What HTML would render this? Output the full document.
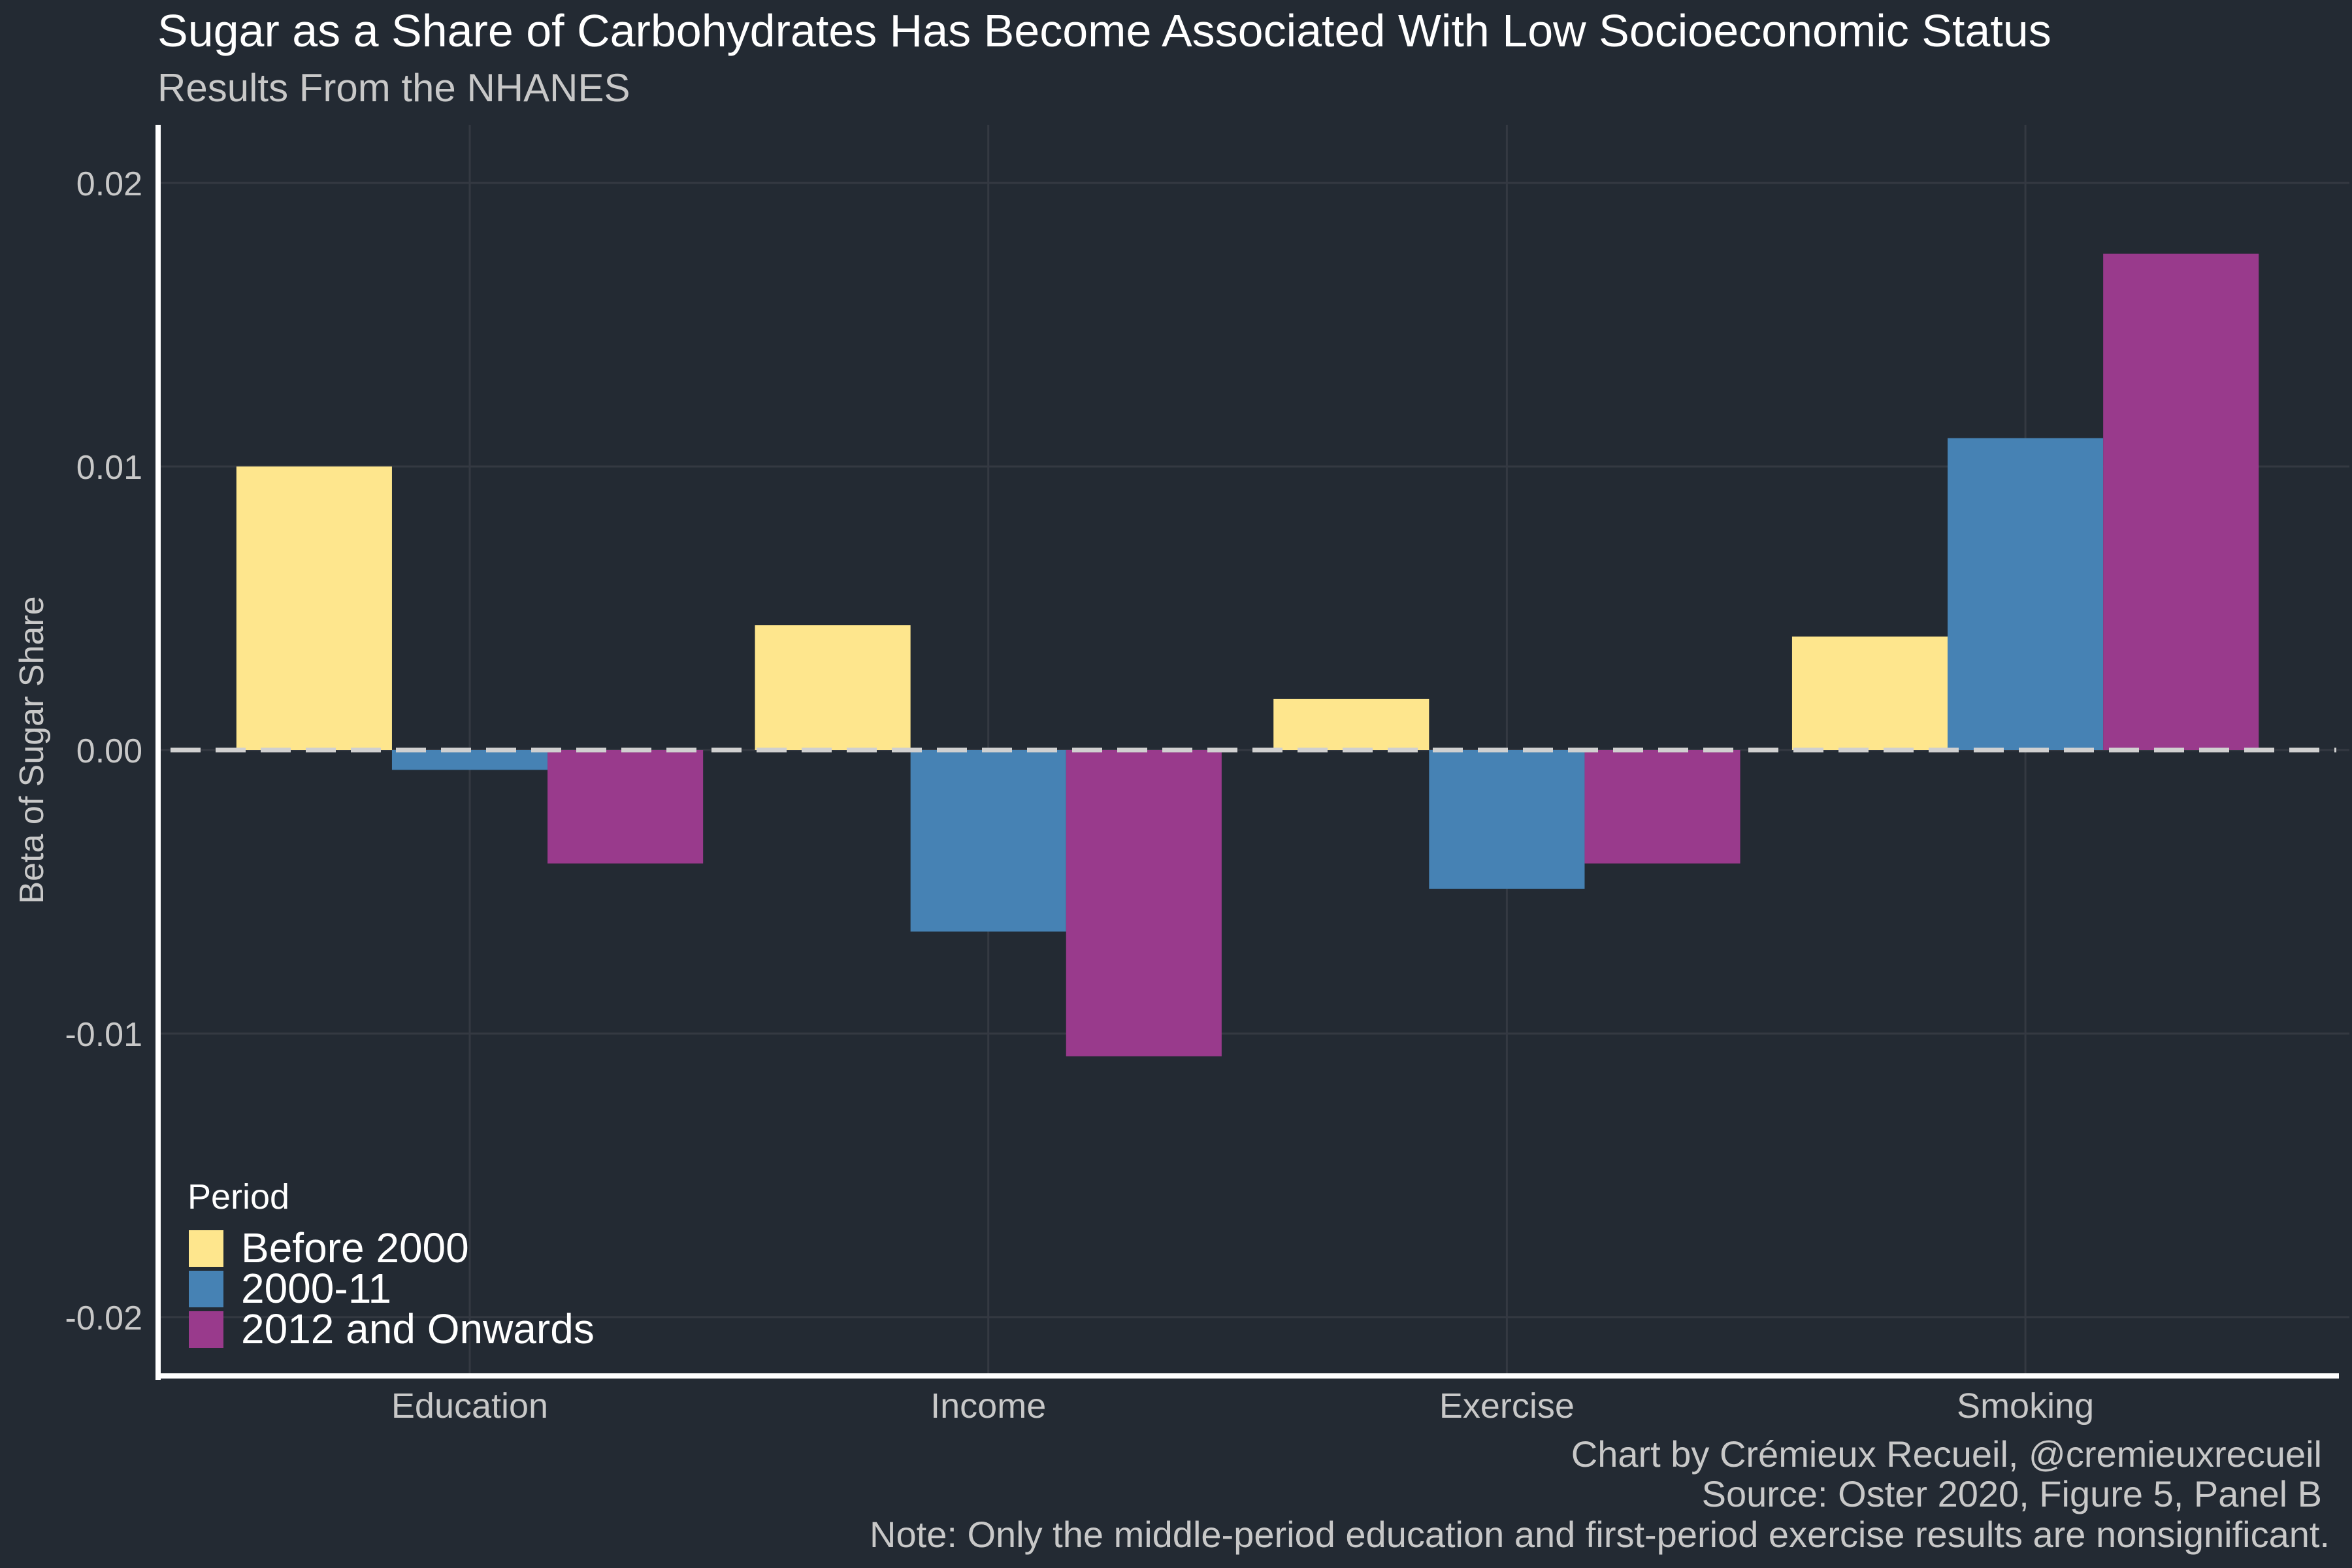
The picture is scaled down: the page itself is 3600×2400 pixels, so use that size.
<!DOCTYPE html>
<html><head><meta charset="utf-8"><style>
html,body{margin:0;padding:0;background:#232a33;}
svg{display:block;font-family:"Liberation Sans",Arial,sans-serif;}
</style></head><body>
<svg id="chart" width="3600" height="2400" viewBox="0 0 3600 2400" xmlns="http://www.w3.org/2000/svg">
<rect x="0" y="0" width="3600" height="2400" fill="#232a33"/>
<text x="241" y="71" font-size="70" fill="#ffffff">Sugar as a Share of Carbohydrates Has Become Associated With Low Socioeconomic Status</text>
<text x="241" y="155" font-size="60" fill="#c8c8c8">Results From the NHANES</text>
<g id="grid"></g>
<g id="bars"></g>
<g id="axes"></g>
<text transform="translate(66,1148) rotate(-90)" text-anchor="middle" font-size="52" fill="#c8c8c8">Beta of Sugar Share</text>
<g>
<text x="287" y="1850" font-size="54" fill="#ffffff">Period</text>
<rect x="289" y="1883" width="53" height="56" fill="#fee68d"/>
<text x="369" y="1932" font-size="64" fill="#ffffff">Before 2000</text>
<rect x="289" y="1945" width="53" height="56" fill="#4682b4"/>
<text x="369" y="1994" font-size="64" fill="#ffffff">2000-11</text>
<rect x="289" y="2007" width="53" height="56" fill="#993a8c"/>
<text x="369" y="2056" font-size="64" fill="#ffffff">2012 and Onwards</text>
</g>
<g font-size="56" fill="#c8c8c8" text-anchor="end">
<text x="3554" y="2245">Chart by Crémieux Recueil, @cremieuxrecueil</text>
<text x="3554" y="2306">Source: Oster 2020, Figure 5, Panel B</text>
<text x="3566" y="2368">Note: Only the middle-period education and first-period exercise results are nonsignificant.</text>
</g>
</svg>
<script>
const categories = ["Education", "Income", "Exercise", "Smoking"];
const seriesNames = ["Before 2000", "2000-11", "2012 and Onwards"];
const before2000 = [0.0100, 0.0044, 0.0018, 0.0040];
const period2000to11 = [-0.0007, -0.0064, -0.0049, 0.0110];
const from2012 = [-0.0040, -0.0108, -0.0040, 0.0175];
const yTicks = [0.02, 0.01, 0.0, -0.01, -0.02];
const yTickLabels = ["0.02", "0.01", "0.00", "-0.01", "-0.02"];

const NS = "http://www.w3.org/2000/svg";
const colors = ["#fee68d", "#4682b4", "#993a8c"];
const slugs = ["before-2000", "2000-11", "2012-onwards"];
const pLeft = 241, pRight = 3596, pTop = 191, pBottom = 2103;
const unit = 793.7;
function xScale(i) { return 719 + i * unit; }
function yScale(v) { return 1148 - v * 43400; }
function mk(tag, attrs, parent) {
  const el = document.createElementNS(NS, tag);
  for (const k in attrs) el.setAttribute(k, attrs[k]);
  parent.appendChild(el);
  return el;
}
const grid = document.getElementById("grid");
const bars = document.getElementById("bars");
const axes = document.getElementById("axes");

yTicks.forEach((t, i) => {
  const g = mk("line", {x1: pLeft, x2: pRight, y1: yScale(t), y2: yScale(t), stroke: "#343942", "stroke-width": 3}, grid);
  
  
  const lb = mk("text", {x: 218, y: yScale(t) + 19, "text-anchor": "end", "font-size": 52, fill: "#c8c8c8"}, axes);
  lb.textContent = yTickLabels[i];
  
  
});
categories.forEach((c, i) => {
  const g = mk("line", {x1: xScale(i), x2: xScale(i), y1: pTop, y2: pBottom, stroke: "#343942", "stroke-width": 3}, grid);
  
  
  const lb = mk("text", {x: xScale(i), y: 2170, "text-anchor": "middle", "font-size": 54, fill: "#c8c8c8"}, axes);
  lb.textContent = c;
  
  
});
const series = [before2000, period2000to11, from2012];
const bw = unit * 0.3;
series.forEach((vals, s) => {
  vals.forEach((v, i) => {
    const x = xScale(i) - 1.5 * bw + s * bw;
    const y0 = yScale(0), y1 = yScale(v);
    const r = mk("rect", {x: x, y: Math.min(y0, y1), width: bw, height: Math.abs(y1 - y0), fill: colors[s]}, bars);
    
    
  });
});
const zl = mk("line", {x1: pLeft + 20, x2: pRight - 20, y1: yScale(0), y2: yScale(0), stroke: "#d0d0d0", "stroke-width": 7, "stroke-dasharray": "46 23"}, bars);


const ya = mk("line", {x1: 242, x2: 242, y1: pTop, y2: 2112, stroke: "#ffffff", "stroke-width": 8}, axes);


const xa = mk("line", {x1: 238, x2: 3580, y1: 2106, y2: 2106, stroke: "#ffffff", "stroke-width": 8}, axes);


</script>
</body></html>
